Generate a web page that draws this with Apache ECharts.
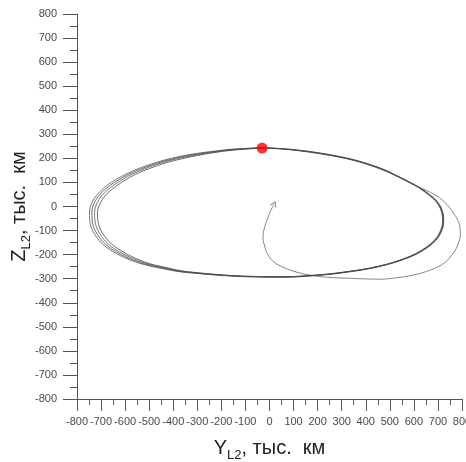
<!DOCTYPE html>
<html>
<head>
<meta charset="utf-8">
<script src="https://cdn.jsdelivr.net/npm/echarts@6/dist/echarts.min.js"></script>
<style>html,body{margin:0;padding:0;background:#fff}#c{width:466px;height:462px}</style>
</head>
<body>
<div id="c"></div>
<script>
// Tick values (thousand km)
var tickMin = -800, tickMax = 800, tickStep = 100;

// Transfer trajectory [Y, Z] (starts at the arrow)
var transfer = [[19,10],[4,-20],[-10,-56],[-24,-100],[-27,-131],[-20,-165],[-10,-194],[15,-228],[56,-252],[110,-272],[168,-285],[240,-294],[322,-298],[400,-301],[459,-302],[530,-296],[597,-285],[652,-270],[697,-252],[730,-232],[751,-210],[772,-182],[785,-152],[793,-120],[792,-92],[783,-58],[764,-27],[740,5],[708,35],[670,58],[626,78]];

// Halo orbit revolutions [Y, Z]
var loop1 = [[626,78],[580,103],[530,128],[480,152],[420,174],[360,192],[300,206],[230,219],[150,231],[60,240],[-31,244],[-90,242],[-160,238],[-230,230],[-300,221],[-372,208],[-444,191],[-516,168],[-577,144],[-633,115],[-679,85],[-714,52],[-738,16],[-748,-25],[-745,-72],[-725,-118],[-688,-161],[-637,-195],[-572,-225],[-514,-243],[-446,-258],[-374,-271],[-302,-278],[-235,-284],[-160,-289],[-94,-292],[44,-294],[181,-288],[322,-273],[459,-249],[571,-215],[641,-181],[691,-141],[716,-100],[724,-60],[719,-20],[701,15],[671,45],[627,77]];
var loop2 = [[627,77],[580,102],[530,127],[480,151],[420,173],[360,191],[300,205],[230,218],[150,230],[60,239],[-31,243],[-90,241],[-160,236],[-230,228],[-300,218],[-370,205],[-440,188],[-510,165],[-570,141],[-625,112],[-670,82],[-705,50],[-728,15],[-738,-25],[-735,-70],[-716,-115],[-680,-158],[-630,-192],[-567,-222],[-510,-241],[-443,-256],[-372,-270],[-300,-277],[-235,-283],[-160,-288],[-94,-291],[44,-293],[181,-287],[322,-272],[459,-248],[571,-214],[640,-180],[690,-140],[715,-100],[723,-60],[718,-20],[700,15],[670,45],[626,77]];
var loop3 = [[626,77],[579,102],[529,127],[479,150],[419,172],[360,190],[300,204],[230,217],[150,229],[60,239],[-31,243],[-90,240],[-160,235],[-230,226],[-300,215],[-368,202],[-436,185],[-504,162],[-563,138],[-616,109],[-660,79],[-694,48],[-717,13],[-727,-25],[-724,-68],[-706,-112],[-671,-155],[-622,-189],[-561,-219],[-505,-239],[-440,-254],[-370,-268],[-300,-276],[-235,-282],[-160,-287],[-94,-290],[44,-292],[181,-286],[322,-271],[459,-247],[570,-213],[638,-179],[688,-139],[713,-99],[721,-60],[716,-20],[698,15],[668,45],[625,76]];
var loop4 = [[625,76],[578,101],[528,126],[478,149],[418,171],[359,189],[300,203],[230,216],[150,228],[60,238],[-31,242],[-90,239],[-160,233],[-230,224],[-300,212],[-366,198],[-432,181],[-498,158],[-556,134],[-607,105],[-650,75],[-683,45],[-705,10],[-715,-25],[-712,-66],[-695,-109],[-661,-151],[-613,-186],[-555,-216],[-500,-237],[-436,-252],[-368,-267],[-300,-275],[-235,-281],[-160,-287],[-94,-290],[44,-292],[181,-286],[322,-271],[459,-247],[569,-213],[637,-179],[686,-139],[711,-99],[719,-60],[714,-20],[696,15],[666,45],[624,75]];

// Marked point (red dot)
var marker = [[-31,243]];

var chart = echarts.init(document.getElementById('c'), null, {renderer:'canvas'});

function lineSeries(d, color){
  return {type:'line', data:d, showSymbol:false, symbol:'none', smooth:0.4,
    lineStyle:{color:color, width:0.8}, silent:true, z:2};
}

var FONT = 'Liberation Sans, Arial, sans-serif';

function axisCommon(){
  return {
    type:'value', min:tickMin, max:tickMax, interval:tickStep,
    axisLine:{show:true, onZero:false, lineStyle:{color:'#555', width:1}},
    axisTick:{show:true, inside:false, lineStyle:{color:'#555', width:1}},
    minorTick:{show:true, splitNumber:2, lineStyle:{color:'#555', width:1}},
    splitLine:{show:false},
    axisLabel:{color:'#4a4a4a', fontSize:11, fontFamily:FONT, hideOverlap:false, showMinLabel:true, showMaxLabel:true}
  };
}

function titleStyle(){
  return {color:'#222', fontSize:20, fontFamily:FONT,
    rich:{sub:{fontSize:13, color:'#222', verticalAlign:'bottom', padding:[0,0,-4,0], fontFamily:FONT},
          t:{fontSize:20, color:'#222', fontFamily:FONT}}};
}

var xa = axisCommon();
xa.axisTick.length = 12; xa.minorTick.length = 6; xa.axisLabel.margin = 17;
xa.name = 'Y{sub|L2}{t|, тыс.  км}';
xa.nameLocation = 'middle'; xa.nameGap = 39; xa.nameMoveOverlap = false;
xa.nameTextStyle = titleStyle();

var ya = axisCommon();
ya.axisTick.length = 14; ya.minorTick.length = 7; ya.axisLabel.margin = 20;
ya.name = 'Z{sub|L2}{t|, тыс.  км}';
ya.nameLocation = 'middle'; ya.nameGap = 48; ya.nameRotate = 90; ya.nameMoveOverlap = false;
ya.nameTextStyle = titleStyle();

chart.setOption({
  animation:false,
  backgroundColor:'#fff',
  grid:{left:77, right:4, top:14, bottom:63, containLabel:false, outerBoundsMode:'none'},
  xAxis:xa,
  yAxis:ya,
  series:[
    lineSeries(transfer,'#666'),
    lineSeries(loop1,'#555'),
    lineSeries(loop2,'#444'),
    lineSeries(loop3,'#555'),
    lineSeries(loop4,'#444'),
    {type:'scatter', data:[transfer[0]], symbol:'path://M0,10L5,0L10,10', symbolSize:[6,5], symbolRotate:-24,
      itemStyle:{color:'transparent', borderColor:'#666', borderWidth:1}, silent:true, z:3},
    {type:'scatter', data:marker, symbol:'circle', symbolSize:11, itemStyle:{color:'#ff0000'}, silent:true, z:4}
  ]
});
</script>
</body>
</html>
